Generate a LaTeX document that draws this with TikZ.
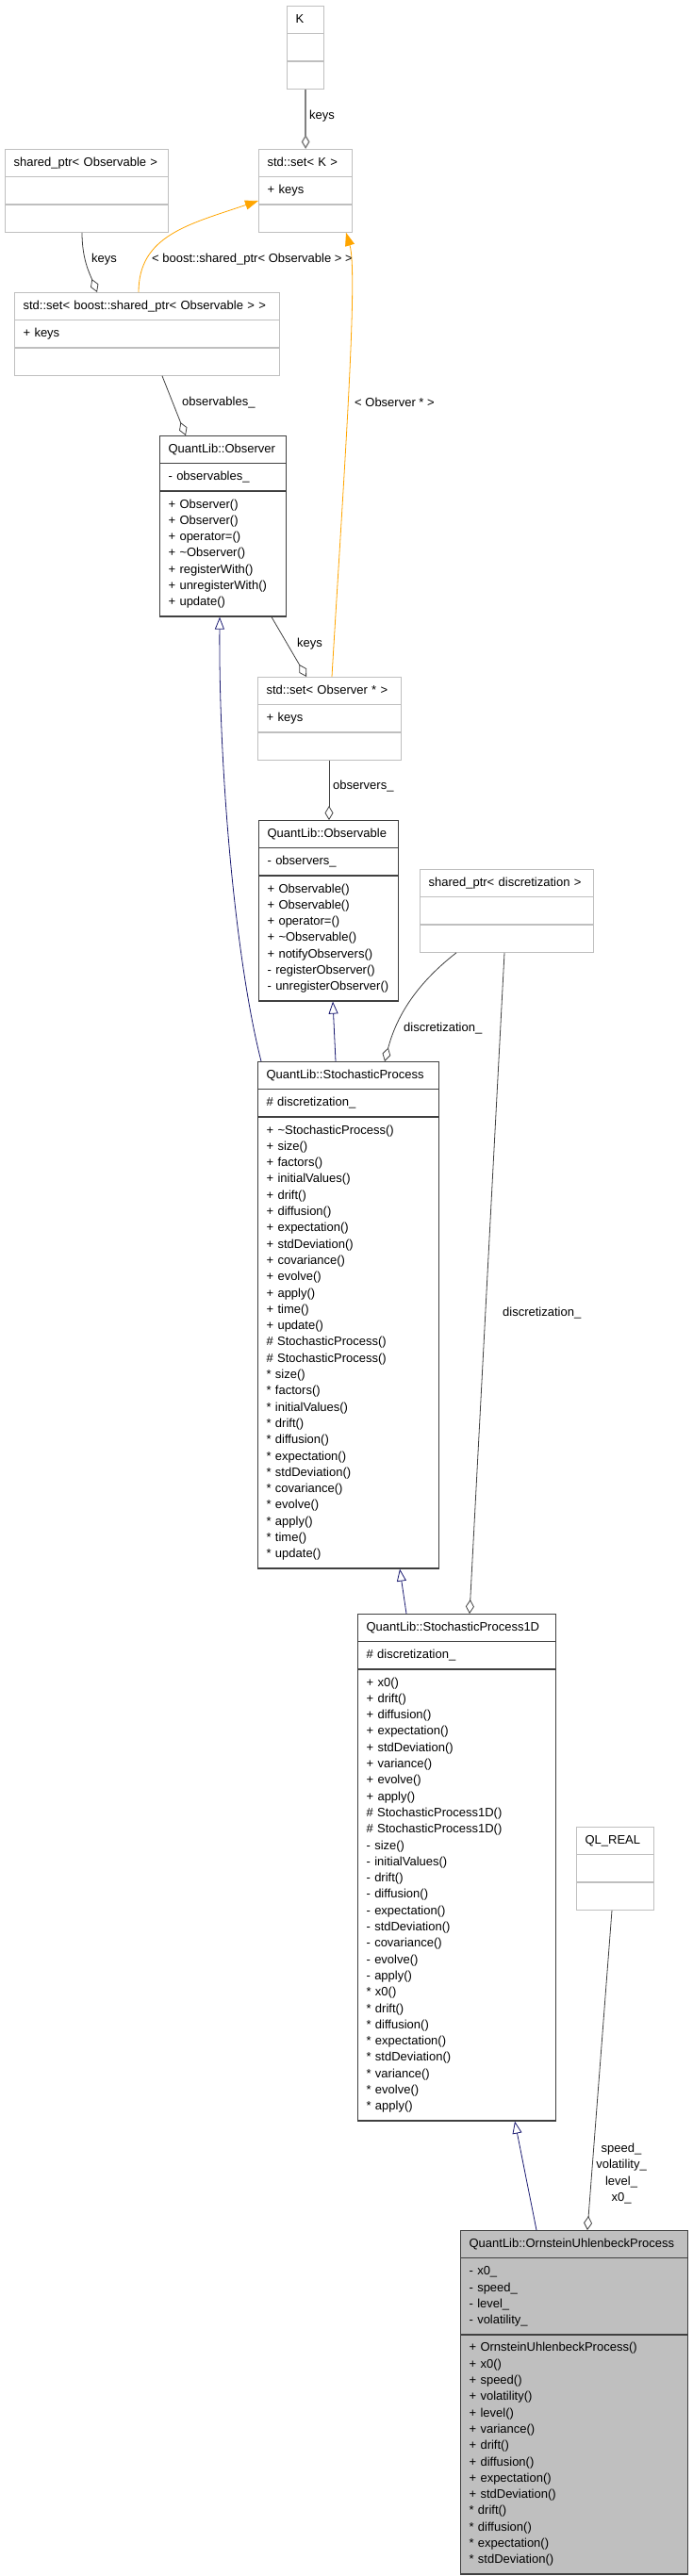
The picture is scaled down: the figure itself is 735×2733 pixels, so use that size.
\documentclass[tikz,border=0pt]{standalone}
\usepackage{fontspec}
\setmainfont{Liberation Sans}
\usetikzlibrary{shapes.multipart,arrows.meta}

\definecolor{boxline}{HTML}{404040}
\definecolor{extline}{HTML}{BFBFBF}
\definecolor{focusfill}{HTML}{BFBFBF}
\definecolor{aggline}{HTML}{404040}
\definecolor{keyline}{HTML}{808080}
\definecolor{inhline}{HTML}{191970}
\definecolor{tmplline}{HTML}{FFA500}

\newcommand{\umlfont}{\fontsize{13pt}{17.3pt}\selectfont}

\tikzset{
  classbox/.style={rectangle split, rectangle split parts=3, draw=boxline,
    fill=white, line width=1.2pt, anchor=north west, inner xsep=9pt,
    inner ysep=5.35pt, align=left, font=\umlfont},
  extbox/.style={classbox, draw=extline},
  focusbox/.style={classbox, fill=focusfill},
  lbl/.style={inner sep=0pt, font=\umlfont},
  aggr/.style={draw=aggline, line width=0.8pt, -{Diamond[open,length=15pt,width=9pt]}},
  inh/.style={draw=inhline, line width=0.8pt, -{Triangle[open,length=13pt,width=10pt]}},
  inst/.style={draw=tmplline, line width=0.8pt, -{Triangle[length=14pt,width=10pt]}}
}

\begin{document}
\begin{tikzpicture}[x=1pt,y=-1pt]
  \useasboundingbox (0,0) rectangle (735,2733);

  % templates and helpers
  \node[extbox, text width=21pt] (k) at (304,6)
    {\centering\strut K\strut \nodepart{two}\strut \nodepart{three}\strut};
  \node[extbox, text width=155pt] (sharedObs) at (5,158)
    {\centering\strut shared\_ptr< Observable >\strut \nodepart{two}\strut \nodepart{three}\strut};
  \node[extbox, text width=81pt] (setK) at (274,158)
    {\centering\strut std::set< K >\strut \nodepart{two}\strut + keys\strut \nodepart{three}\strut};
  \node[extbox, text width=263pt] (setObsPtr) at (15,310)
    {\centering\strut std::set< boost::shared\_ptr< Observable > >\strut
     \nodepart{two}\strut + keys\strut \nodepart{three}\strut};
  \node[extbox, text width=134pt] (setObserver) at (273,718)
    {\centering\strut std::set< Observer * >\strut
     \nodepart{two}\strut + keys\strut \nodepart{three}\strut};
  \node[extbox, text width=166pt] (sharedDisc) at (445,922)
    {\centering\strut shared\_ptr< discretization >\strut \nodepart{two}\strut \nodepart{three}\strut};
  \node[extbox, text width=64pt] (qlReal) at (611,1938)
    {\centering\strut QL\_REAL\strut \nodepart{two}\strut \nodepart{three}\strut};

  % classes
  \node[classbox, text width=116pt] (observer) at (169,462)
    {\centering\strut QuantLib::Observer\strut
     \nodepart{two}\strut - observables\_\strut
     \nodepart{three}\strut + Observer()\\+ Observer()\\+ operator=()\\
       + \textasciitilde Observer()\\+ registerWith()\\+ unregisterWith()\\+ update()\strut};
  \node[classbox, text width=130pt] (observable) at (274,870)
    {\centering\strut QuantLib::Observable\strut
     \nodepart{two}\strut - observers\_\strut
     \nodepart{three}\strut + Observable()\\+ Observable()\\+ operator=()\\
       + \textasciitilde Observable()\\+ notifyObservers()\\- registerObserver()\\
       - unregisterObserver()\strut};
  \node[classbox, text width=174pt] (stoch) at (273,1126)
    {\centering\strut QuantLib::StochasticProcess\strut
     \nodepart{two}\strut \# discretization\_\strut
     \nodepart{three}\strut + \textasciitilde StochasticProcess()\\+ size()\\+ factors()\\
       + initialValues()\\+ drift()\\+ diffusion()\\+ expectation()\\+ stdDeviation()\\
       + covariance()\\+ evolve()\\+ apply()\\+ time()\\+ update()\\
       \# StochasticProcess()\\\# StochasticProcess()\\
       {}* size()\\{}* factors()\\{}* initialValues()\\{}* drift()\\{}* diffusion()\\
       {}* expectation()\\{}* stdDeviation()\\{}* covariance()\\{}* evolve()\\
       {}* apply()\\{}* time()\\{}* update()\strut};
  \node[classbox, text width=192pt] (stoch1d) at (379,1712)
    {\centering\strut QuantLib::StochasticProcess1D\strut
     \nodepart{two}\strut \# discretization\_\strut
     \nodepart{three}\strut + x0()\\+ drift()\\+ diffusion()\\+ expectation()\\
       + stdDeviation()\\+ variance()\\+ evolve()\\+ apply()\\
       \# StochasticProcess1D()\\\# StochasticProcess1D()\\
       - size()\\- initialValues()\\- drift()\\- diffusion()\\- expectation()\\
       - stdDeviation()\\- covariance()\\- evolve()\\- apply()\\
       {}* x0()\\{}* drift()\\{}* diffusion()\\{}* expectation()\\{}* stdDeviation()\\
       {}* variance()\\{}* evolve()\\{}* apply()\strut};
  \node[focusbox, text width=223pt] (ou) at (488,2366)
    {\centering\strut QuantLib::OrnsteinUhlenbeckProcess\strut
     \nodepart{two}\strut - x0\_\\- speed\_\\- level\_\\- volatility\_\strut
     \nodepart{three}\strut + OrnsteinUhlenbeckProcess()\\+ x0()\\+ speed()\\
       + volatility()\\+ level()\\+ variance()\\+ drift()\\+ diffusion()\\
       + expectation()\\+ stdDeviation()\\{}* drift()\\{}* diffusion()\\
       {}* expectation()\\{}* stdDeviation()\strut};

  % edge labels
  \node[lbl, anchor=west] (kKeys) at (328,123) {keys};
  \node[lbl, anchor=west] (obsKeys) at (97,275) {keys};
  \node[lbl, anchor=west] (obsArg) at (161,275) {< boost::shared\_ptr< Observable > >};
  \node[lbl, anchor=west] (observablesLbl) at (193,427) {observables\_};
  \node[lbl, anchor=west] (observerArg) at (376,427) {< Observer * >};
  \node[lbl, anchor=west] (observerKeys) at (315,683) {keys};
  \node[lbl, anchor=west] (observersLbl) at (353,834) {observers\_};
  \node[lbl, anchor=west] (discLbl) at (428,1091) {discretization\_};
  \node[lbl, anchor=west] (discLblB) at (533,1393) {discretization\_};
  \node[lbl, align=center] (realLbl) at (659,2306) {speed\_\\volatility\_\\level\_\\x0\_};

  % connectors
  \draw[aggr, draw=keyline, line width=1.4pt] (k.south) -- (setK.north);
  \draw[aggr] ([xshift=82pt]sharedObs.south west)
    .. controls (87,275) and (95,290) .. ([xshift=88pt]setObsPtr.north west);
  \draw[inst] ([xshift=132pt]setObsPtr.north west)
    .. controls (147,250) and (200,238) .. ([yshift=-55pt]setK.north west);
  \draw[inst] ([xshift=79pt]setObserver.north west)
    .. controls (365,500) and (380,290) .. ([xshift=93pt]setK.south west);
  \draw[aggr] ([xshift=157pt]setObsPtr.south west) -- ([xshift=28pt]observer.north west);
  \draw[aggr] ([xshift=119pt]observer.south west) -- ([xshift=52pt]setObserver.north west);
  \draw[aggr] ([xshift=76pt]setObserver.south west) -- ([xshift=75pt]observable.north west);
  \draw[inh] ([xshift=4pt]stoch.north west)
    .. controls (250,1020) and (232,820) .. ([xshift=64pt]observer.south west);
  \draw[inh] ([xshift=83pt]stoch.north west) -- ([xshift=79pt]observable.south west);
  \draw[aggr] ([xshift=39pt]sharedDisc.south west)
    .. controls (440,1045) and (420,1080) .. ([xshift=135pt]stoch.north west);
  \draw[aggr] ([xshift=90pt]sharedDisc.south west) -- ([xshift=119pt]stoch1d.north west);
  \draw[inh] ([xshift=52pt]stoch1d.north west) -- ([xshift=151pt]stoch.south west);
  \draw[aggr] ([xshift=38pt]qlReal.south west) -- ([xshift=135pt]ou.north west);
  \draw[inh] ([xshift=81pt]ou.north west) -- ([xshift=167pt]stoch1d.south west);
\end{tikzpicture}
\end{document}
